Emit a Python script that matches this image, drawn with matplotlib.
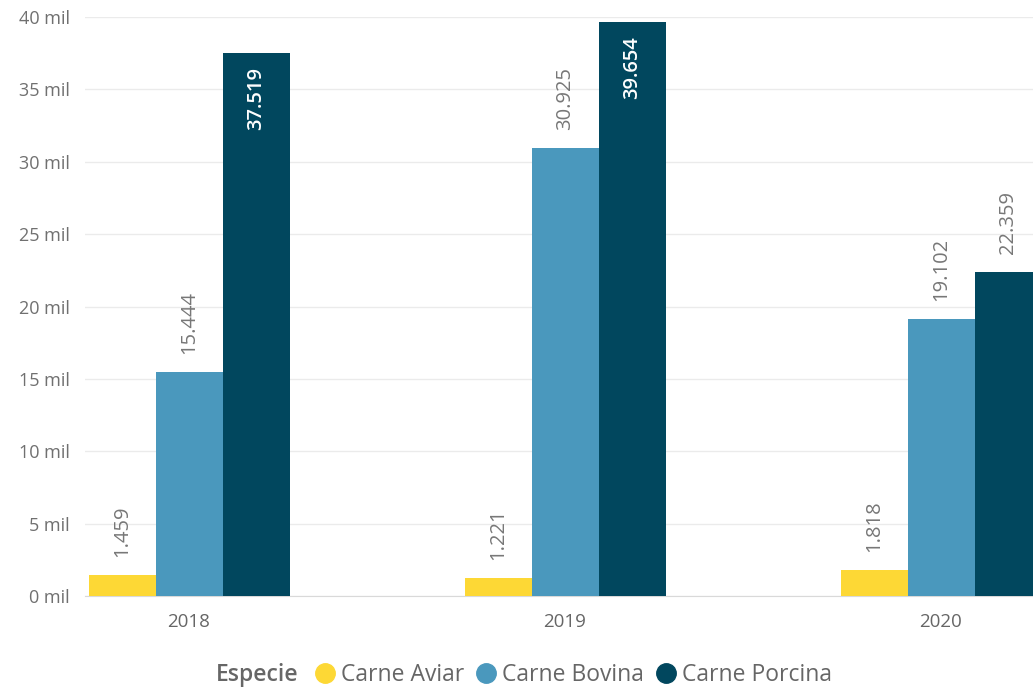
import numpy as np
import matplotlib
matplotlib.use('Agg')
from matplotlib import pyplot as plt
from matplotlib.lines import Line2D

plt.rcParams['font.family'] = ['Open Sans', 'DejaVu Sans']

# datos
anios = ['2018', '2019', '2020']
especies = ['Carne Aviar', 'Carne Bovina', 'Carne Porcina']
aviar = [1.459, 1.221, 1.818]
bovina = [15.444, 30.925, 19.102]
porcina = [37.519, 39.654, 22.359]
etiquetas_y = ['0 mil', '5 mil', '10 mil', '15 mil', '20 mil', '25 mil', '30 mil', '35 mil', '40 mil']

colores = ['#FDD835', '#4A98BD', '#01475E']
series = [aviar, bovina, porcina]

fig = plt.figure(figsize=(10.33, 6.9), dpi=100)
ax = fig.add_axes([85 / 1033, 94 / 690, 1 - 85 / 1033, (596 - 17) / 690])

x = np.arange(len(anios))
w = 67 / 376
for i, (vals, col) in enumerate(zip(series, colores)):
    pos = x + (i - 1) * w
    ax.bar(pos, vals, width=w, color=col, zorder=3)
    for p, v in zip(pos, vals):
        txt = f'{v:.3f}'
        if v > 35:
            ax.annotate(txt, (p, v), xytext=(0, -10), textcoords='offset points',
                        rotation=90, ha='center', va='top', color='white',
                        fontsize=14.5, fontweight='semibold', zorder=4)
        else:
            ax.annotate(txt, (p, v), xytext=(0, 13), textcoords='offset points',
                        rotation=90, ha='center', va='bottom', color='#777777',
                        fontsize=14.5, zorder=4)

ax.set_xlim((85 - 189) / 376, (1033 - 189) / 376)
ax.set_ylim(0, 40)
ax.set_xticks(x)
ax.set_xticklabels(anios, fontsize=13.5, color='#666666')
ax.set_yticks(np.arange(0, 41, 5))
ax.set_yticklabels(etiquetas_y, fontsize=13, color='#707070')
ax.tick_params(axis='x', length=0, pad=12)
ax.tick_params(axis='y', length=0, pad=11)
ax.grid(axis='y', color='#EBEBEB', lw=1, zorder=0)
for s in ['top', 'right', 'left']:
    ax.spines[s].set_visible(False)
ax.spines['bottom'].set_color('#D9D9D9')

# leyenda
fig.text(216 / 1033, 15 / 690, 'Especie', fontsize=16.5, fontweight='semibold',
         color='#666666', va='center', ha='left')
handles = [Line2D([], [], marker='o', ls='', color=c, markersize=14) for c in colores]
fig.legend(handles, especies, loc='center left', bbox_to_anchor=(302 / 1033, 15 / 690),
           ncol=3, frameon=False, fontsize=16.5, labelcolor='#666666',
           handletextpad=0.2, columnspacing=0.45, handlelength=1.0, borderpad=0)

fig.savefig('out.png', dpi=100)
